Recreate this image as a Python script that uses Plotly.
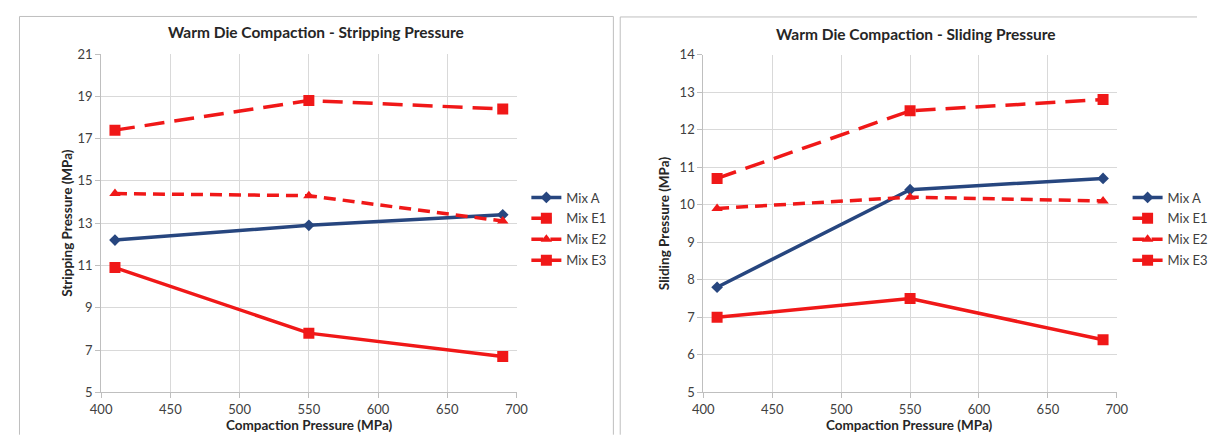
import plotly.graph_objects as go

# ---- data ----
compaction = [410, 550, 690]
series_names = ["Mix A", "Mix E1", "Mix E2", "Mix E3"]

strip_mix_a = [12.2, 12.9, 13.4]
strip_mix_e1 = [17.4, 18.8, 18.4]
strip_mix_e2 = [14.4, 14.3, 13.1]
strip_mix_e3 = [10.9, 7.8, 6.7]

slide_mix_a = [7.8, 10.4, 10.7]
slide_mix_e1 = [10.7, 12.5, 12.8]
slide_mix_e2 = [9.9, 10.2, 10.1]
slide_mix_e3 = [7.0, 7.5, 6.4]

x_ticks = [400, 450, 500, 550, 600, 650, 700]
strip_ticks = [5, 7, 9, 11, 13, 15, 17, 19, 21]
slide_ticks = [5, 6, 7, 8, 9, 10, 11, 12, 13, 14]

titles = ["Warm Die Compaction - Stripping Pressure", "Warm Die Compaction - Sliding Pressure"]
y_titles = ["Stripping Pressure (MPa)", "Sliding Pressure (MPa)"]
x_title = "Compaction Pressure (MPa)"

# ---- styles ----
PAGE_W, PAGE_H = 1221, 443
PAD = 8  # default body margin of the html page
W, H = PAGE_W - 2 * PAD, PAGE_H - 2 * PAD
NAVY = "#27467F"
RED = "#F01818"
FONT = "Lato"
styles = [
    dict(color=NAVY, symbol="diamond", size=9),
    dict(color=RED, symbol="square", size=11),
    dict(color=RED, symbol="triangle-up", size=10),
    dict(color=RED, symbol="square", size=11),
]
dashes = ["solid", "20px,10px", "12px,7px", "solid"]

fig = go.Figure()

panels = [
    (["x", "y"], [strip_mix_a, strip_mix_e1, strip_mix_e2, strip_mix_e3], "legend", "p1"),
    (["x2", "y2"], [slide_mix_a, slide_mix_e1, slide_mix_e2, slide_mix_e3], "legend2", "p2"),
]
for (xa, ya), data, leg, tag in panels:
    for i, (name, vals) in enumerate(zip(series_names, data)):
        st = styles[i]
        fig.add_trace(go.Scatter(
            x=compaction, y=vals, name=name, mode="lines+markers",
            xaxis=xa, yaxis=ya, legend=leg, legendgroup=f"{tag}_{i}",
            line=dict(color=st["color"], width=3.5, dash=dashes[i]),
            marker=dict(symbol=st["symbol"], size=st["size"], color=st["color"]),
        ))

# page pixel -> paper coordinate
def px_x(v):
    return (v - PAD) / W

def px_y(v):
    return 1 - (v - PAD) / H

axis_common = dict(
    showgrid=True, gridcolor="#D9D9D9", gridwidth=1,
    showline=True, linecolor="#BFBFBF", linewidth=1,
    ticks="outside", ticklen=5, tickcolor="#BFBFBF",
    tickfont=dict(family=FONT, size=13, color="#404040"),
    zeroline=False, fixedrange=True,
)

legend_common = dict(
    xanchor="left", yanchor="top",
    font=dict(family=FONT, size=13, color="#404040"),
    bgcolor="rgba(0,0,0,0)", itemwidth=30, tracegroupgap=1,
)

border = dict(color="#BFBFBF", width=1)
shapes = [
    # left chart frame (left, top, right edges)
    dict(type="line", x0=px_x(8.5), x1=px_x(8.5), y0=px_y(443), y1=px_y(8.5), line=border),
    dict(type="line", x0=px_x(8.5), x1=px_x(616), y0=px_y(8.5), y1=px_y(8.5), line=border),
    dict(type="line", x0=px_x(616), x1=px_x(616), y0=px_y(443), y1=px_y(8.5), line=border),
    # right chart frame (left, top edges)
    dict(type="line", x0=px_x(623), x1=px_x(623), y0=px_y(443), y1=px_y(9), line=border),
    dict(type="line", x0=px_x(623), x1=px_x(1213), y0=px_y(9), y1=px_y(9), line=border),
]
for s in shapes:
    s.update(xref="paper", yref="paper", layer="below")

fig.update_layout(
    width=W, height=H,
    margin=dict(l=0, r=0, t=0, b=0),
    paper_bgcolor="white", plot_bgcolor="white",
    font=dict(family=FONT, color="#404040"),
    xaxis=dict(domain=[px_x(92), px_x(517)], range=[400, 700], tickvals=x_ticks, anchor="y", **axis_common),
    yaxis=dict(domain=[px_y(399), px_y(47.5)], range=[5, 21], tickvals=strip_ticks, anchor="x", **axis_common),
    xaxis2=dict(domain=[px_x(708), px_x(1131)], range=[400, 700], tickvals=x_ticks, anchor="y2", **axis_common),
    yaxis2=dict(domain=[px_y(399), px_y(48)], range=[5, 14], tickvals=slide_ticks, anchor="x2", **axis_common),
    legend=dict(x=px_x(527), y=px_y(181), **legend_common),
    legend2=dict(x=px_x(1142), y=px_y(181), **legend_common),
    shapes=shapes,
    showlegend=True,
)

annotations = [
    dict(text="<b>%s</b>" % titles[0], x=px_x(312), y=px_y(25), font=dict(size=15.5, color="#262626")),
    dict(text="<b>%s</b>" % titles[1], x=px_x(926), y=px_y(27), font=dict(size=15.5, color="#262626")),
    dict(text="<b>%s</b>" % x_title, x=px_x(305), y=px_y(433), font=dict(size=13.5, color="#262626")),
    dict(text="<b>%s</b>" % x_title, x=px_x(919), y=px_y(433), font=dict(size=13.5, color="#262626")),
    dict(text="<b>%s</b>" % y_titles[0], x=px_x(57), y=px_y(223), textangle=-90, font=dict(size=13.5, color="#262626")),
    dict(text="<b>%s</b>" % y_titles[1], x=px_x(668), y=px_y(223), textangle=-90, font=dict(size=13.5, color="#262626")),
]
for a in annotations:
    a.update(xref="paper", yref="paper", showarrow=False, xanchor="center", yanchor="middle")
    a["font"]["family"] = FONT
fig.update_layout(annotations=annotations)

fig.write_html("out.html", config={"displayModeBar": False})
